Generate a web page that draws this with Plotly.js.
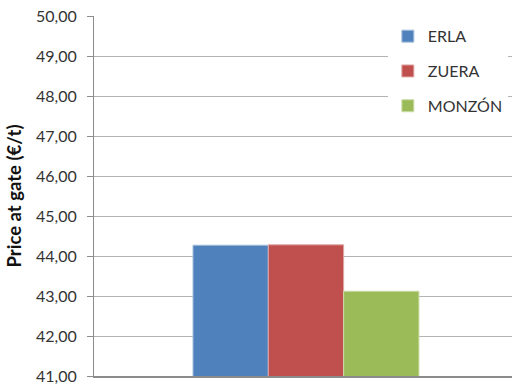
<!DOCTYPE html>
<html>
<head>
<meta charset="utf-8">
<script src="https://cdn.plot.ly/plotly-3.0.1.min.js"></script>
<style>
  html, body { margin: 0; padding: 0; background: #fff; }
  #chart { width: 512px; height: 384px; }
</style>
</head>
<body>
<div id="chart"></div>
<script>
// Gate price per plant (€/t)
const category = [''];
const plants = ['ERLA', 'ZUERA', 'MONZÓN'];
const prices = [44.27, 44.28, 43.12];
const fillColors = ['#4F81BD', '#C0504D', '#9BBB59'];
const edgeColors = ['#A7C0DE', '#E0A8A6', '#CDDDAC'];
const yTicks = [41, 42, 43, 44, 45, 46, 47, 48, 49, 50];

const traces = plants.map((name, i) => ({
  type: 'bar',
  name: name,
  x: category,
  y: [prices[i]],
  legendgroup: name,
  marker: { color: fillColors[i], line: { color: edgeColors[i], width: 1 } },
  hoverinfo: 'none'
}));

const font = 'Lato, "Open Sans", sans-serif';

const layout = {
  width: 512,
  height: 384,
  margin: { l: 94, r: 0, t: 16, b: 8 },
  paper_bgcolor: '#ffffff',
  plot_bgcolor: '#ffffff',
  separators: ',.',
  barmode: 'group',
  bargap: 0.467,
  bargroupgap: 0,
  showlegend: true,
  font: { family: font, size: 16, color: '#333333' },
  xaxis: {
    type: 'category',
    range: [-0.5, 0.486],
    showticklabels: false,
    ticks: '',
    showgrid: false,
    showline: true,
    linecolor: '#8c8c8c',
    linewidth: 1.5,
    fixedrange: true
  },
  yaxis: {
    range: [41, 50],
    tickvals: yTicks,
    tickformat: '.2f',
    ticks: 'outside',
    ticklen: 6,
    tickcolor: '#8c8c8c',
    ticklabelstandoff: 7,
    ticklabeloverflow: 'allow',
    showline: true,
    linecolor: '#8c8c8c',
    linewidth: 1,
    showgrid: true,
    gridcolor: '#b3b3b3',
    gridwidth: 1,
    zeroline: false,
    tickfont: { family: font, size: 16, color: '#333333' },
    title: {
      text: '<b>Price at gate (€/t)</b>',
      font: { family: font, size: 18.5, color: '#111111' },
      standoff: 9
    },
    fixedrange: true
  },
  legend: {
    x: 0.703,
    xanchor: 'left',
    y: 0.991,
    yanchor: 'top',
    bgcolor: '#ffffff',
    borderwidth: 0,
    traceorder: 'grouped',
    tracegroupgap: 11,
    font: { family: font, size: 16, color: '#333333' }
  }
};

Plotly.newPlot('chart', traces, layout, { staticPlot: true, displayModeBar: false });
</script>
</body>
</html>
